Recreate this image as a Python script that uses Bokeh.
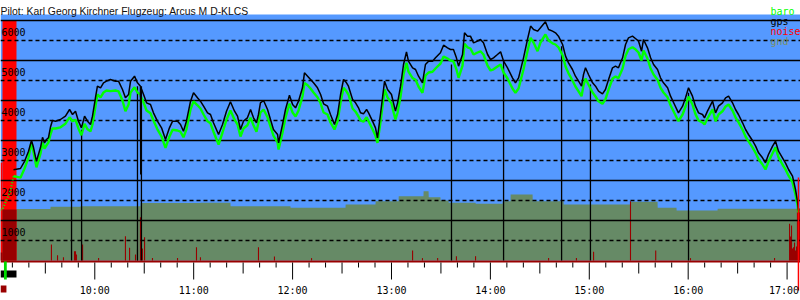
from bokeh.plotting import figure
from bokeh.models import Range1d
from bokeh.core.properties import value
from bokeh.embed import file_html
from bokeh.resources import INLINE

# ---------------- data (time in minutes after midnight, altitude in m) -------------
title_text = "Pilot: Karl Georg Kirchner Flugzeug: Arcus M D-KLCS"

time_min = [550.7, 554.9, 557.4, 559.8, 561.6, 562.8, 564.6, 567.1, 568.3, 569.5,
            570.7, 571.9, 573.1, 574.3, 576.2, 579.2, 582.2, 584.7, 586.5, 588.3,
            590.1, 591.9, 593.8, 595.6, 597.4, 598.6, 600.4, 601.6, 603.5, 605.3,
            607.1, 609.5, 612.6, 614.4, 616.8, 618.6, 620.5, 621.7, 624.1, 625.9,
            627.7, 627.9, 628.2, 629.6, 631.4, 633.8, 635.6, 638.0, 640.5, 642.9,
            645.3, 647.2, 650.2, 652.0, 653.8, 655.6, 658.1, 659.9, 662.3, 664.1,
            666.0, 668.4, 670.2, 672.0, 675.1, 677.5, 679.9, 682.3, 684.8, 686.6,
            688.4, 690.2, 692.6, 694.5, 696.3, 698.1, 699.3, 700.5, 702.4, 704.8,
            706.6, 708.4, 710.9, 711.5, 713.9, 715.7, 718.1, 720.0, 721.8, 723.6,
            726.0, 727.2, 729.1, 730.9, 732.7, 735.1, 737.0, 738.8, 741.2, 743.0,
            745.4, 747.3, 749.1, 750.9, 752.7, 753.9, 756.4, 758.2, 760.0, 761.2,
            763.0, 764.9, 766.1, 768.5, 770.3, 771.5, 773.3, 775.8, 777.6, 780.0,
            781.2, 782.4, 783.7, 785.5, 787.3, 789.1, 790.3, 792.8, 794.6, 796.4,
            798.8, 800.6, 802.5, 804.9, 806.7, 809.7, 811.6, 814.0, 815.8, 817.6,
            819.4, 820.7, 823.1, 824.3, 826.1, 827.9, 829.8, 832.2, 834.0, 835.8,
            838.3, 840.1, 841.9, 844.3, 846.2, 848.0, 850.4, 853.4, 855.2, 857.1,
            860.1, 862.5, 864.4, 866.2, 868.6, 870.4, 873.4, 875.3, 877.7, 879.5,
            881.3, 883.8, 885.6, 887.4, 889.8, 891.6, 893.5, 895.3, 896.5, 897.7,
            899.5, 902.0, 903.8, 905.6, 908.0, 909.8, 911.7, 914.1, 915.9, 917.7,
            920.2, 922.0, 923.8, 926.2, 928.0, 929.9, 931.7, 932.9, 935.3, 937.2,
            939.0, 941.4, 943.2, 945.0, 947.5, 949.3, 951.7, 954.1, 956.6, 958.4,
            960.2, 962.6, 964.4, 966.3, 968.7, 969.9, 971.7, 974.8, 976.6, 978.4,
            980.8, 982.7, 984.5, 986.9, 988.7, 990.5, 993.0, 994.8, 996.6, 999.0,
            1000.9, 1002.7, 1005.1, 1006.9, 1008.7, 1011.2, 1013.0, 1014.8, 1017.2, 1019.0,
            1020.9, 1023.3, 1025.1, 1026.3, 1026.9]

gps_alt = [2270, 2300, 2480, 2730, 3000, 2830, 2480, 2830, 3080, 2940,
           3025, 3070, 3330, 3500, 3480, 3525, 3610, 3775, 3650, 3733,
           3483, 3317, 3608, 3483, 3400, 3608, 4067, 4358, 4317, 4442,
           4483, 4525, 4483, 4483, 4275, 4067, 4150, 4483, 4608, 4442,
           4358, 2150, 4300, 4150, 3942, 3900, 3692, 3483, 3317, 3025,
           3317, 3483, 3483, 3400, 3233, 3483, 3983, 4192, 4067, 3983,
           3858, 3692, 3650, 3442, 3150, 3400, 3733, 3967, 3733, 3608,
           3275, 3483, 3567, 3775, 3567, 3442, 3650, 3942, 4000, 3775,
           3525, 3275, 3150, 2942, 3400, 3775, 4133, 3900, 3817, 3983,
           4317, 4692, 4608, 4525, 4442, 4317, 4150, 3917, 3858, 3650,
           3400, 3650, 4150, 4525, 4442, 4358, 4025, 3942, 3817, 3692,
           3667, 3775, 3692, 3483, 3317, 3067, 3650, 4483, 4275, 4150,
           3942, 3733, 3942, 4358, 4900, 5217, 4983, 4817, 4775, 4608,
           4442, 4900, 4983, 4983, 5067, 5192, 5383, 5317, 5275, 5275,
           5067, 4858, 5150, 5692, 5608, 5608, 5442, 5483, 5525, 5442,
           5150, 5025, 5067, 5150, 5217, 4983, 4817, 4567, 4442, 4567,
           5067, 5525, 5860, 5775, 5733, 5817, 5967, 5775, 5733, 5692,
           5608, 5400, 5108, 4942, 4775, 4608, 4483, 4358, 4650, 4817,
           4650, 4442, 4358, 4233, 4167, 4275, 4525, 4817, 4858, 4817,
           5067, 5400, 5567, 5608, 5550, 5483, 5233, 5525, 5317, 5067,
           4900, 4775, 4567, 4442, 4317, 4108, 3900, 3692, 3858, 4067,
           4317, 4108, 3858, 3692, 3650, 3567, 3733, 3983, 3692, 3858,
           3942, 4067, 4108, 3942, 3775, 3650, 3442, 3275, 3150, 3000,
           2858, 2692, 2567, 2442, 2650, 2858, 2983, 2733, 2567, 2442,
           2275, 2108, 1775, 1483, 1250]

baro_alt = [2110, 2070, 2300, 2580, 2950, 2720, 2330, 2680, 2950, 2800,
            2880, 2950, 3150, 3300, 3300, 3330, 3420, 3580, 3480, 3520,
            3300, 3130, 3420, 3280, 3230, 3400, 3850, 4150, 4080, 4200,
            4250, 4233, 4250, 4230, 4000, 3733, 3900, 4200, 4330, 4200,
            4150, 4100, 4080, 3950, 3750, 3680, 3500, 3280, 3100, 2817,
            3100, 3270, 3250, 3220, 3080, 3280, 3780, 3980, 3880, 3800,
            3650, 3480, 3430, 3220, 2900, 3200, 3520, 3750, 3520, 3400,
            3100, 3300, 3380, 3570, 3380, 3220, 3450, 3700, 3775, 3580,
            3350, 3120, 2950, 2775, 3200, 3570, 3920, 3700, 3600, 3750,
            4100, 4442, 4380, 4300, 4200, 4080, 3930, 3700, 3650, 3450,
            3275, 3480, 3950, 4317, 4230, 4150, 3800, 3720, 3600, 3500,
            3470, 3580, 3480, 3280, 3120, 2942, 3450, 4275, 4080, 3930,
            3720, 3525, 3700, 4100, 4650, 4942, 4720, 4560, 4520, 4350,
            4192, 4620, 4700, 4720, 4800, 4920, 5100, 5050, 5000, 4980,
            4780, 4567, 4870, 5417, 5330, 5300, 5150, 5200, 5230, 5150,
            4870, 4750, 4780, 4850, 4900, 4700, 4550, 4300, 4192, 4300,
            4780, 5230, 5567, 5450, 5233, 5450, 5650, 5500, 5430, 5400,
            5330, 5130, 4850, 4680, 4500, 4350, 4230, 4108, 4380, 4550,
            4400, 4200, 4100, 3980, 3917, 4030, 4270, 4550, 4600, 4560,
            4800, 5120, 5280, 5330, 5280, 5200, 5000, 5250, 5050, 4800,
            4650, 4520, 4320, 4200, 4080, 3880, 3680, 3483, 3650, 3850,
            4100, 3900, 3660, 3500, 3450, 3400, 3550, 3780, 3480, 3650,
            3730, 3850, 3900, 3750, 3580, 3460, 3270, 3100, 2980, 2830,
            2690, 2530, 2400, 2275, 2470, 2680, 2830, 2580, 2400, 2280,
            2120, 1950, 1650, 1400, 1200]

# launch part of the barograph (engine climb)
launch_time = [542.8, 544.0, 548.9, 550.7]
launch_baro = [1275, 1275, 1750, 2110]

gnd_time = [542.8, 552.5, 552.6, 573.1, 573.2, 591.3, 591.4, 627.7, 627.8, 664.1,
            664.2, 682.3, 682.4, 718.7, 718.8, 752.1, 752.2, 770.3, 770.4, 784.3,
            784.4, 799.4, 799.5, 802.5, 802.6, 809.7, 809.8, 814.6, 814.7, 831.0,
            831.1, 847.4, 847.5, 852.2, 852.3, 865.6, 865.7, 884.4, 884.5, 925.0,
            925.1, 941.4, 941.5, 952.9, 953.0, 977.8, 977.9, 1028.2]
gnd_alt = [1275, 1275, 1290, 1290, 1342, 1342, 1358, 1358, 1440, 1440,
           1442, 1442, 1358, 1358, 1317, 1317, 1400, 1400, 1483, 1483,
           1608, 1608, 1733, 1733, 1583, 1583, 1500, 1500, 1442, 1442,
           1417, 1417, 1483, 1483, 1650, 1650, 1483, 1483, 1400, 1400,
           1467, 1467, 1317, 1317, 1250, 1250, 1292, 1292]

noise_time = [573.7, 577.4, 581.0, 587.7, 588.3, 588.9, 592.6, 602.3, 618.6, 621.1,
              624.7, 625.9, 627.7, 628.9, 630.2, 635.0, 650.2, 661.7, 664.1, 699.3,
              709.0, 731.5, 792.8, 798.8, 808.0, 819.4, 831.0, 875.3, 892.2, 902.6,
              925.0, 940.3, 961.4, 1012.4, 1021.5, 1022.1, 1022.7, 1023.3, 1023.9,
              1024.5, 1025.1, 1025.7, 1026.3, 1027.5]
noise_val = [400, 133, 80, 233, 233, 150, 400, 60, 608, 317,
             150, 275, 1083, 300, 583, 60, 60, 333, 80, 333,
             100, 60, 250, 60, 60, 108, 108, 60, 60, 217,
             1483, 250, 60, 60, 917, 600, 875, 300, 333, 450, 250, 350, 1300, 1300]

engine_start = [542.8, 544.0]
engine_end = [544.0, 552.5]
engine_enl = [2450, 6000]
engine_noise = [200, 1275]

marker_time = [585.9, 592.0, 625.9, 628.3, 816.4, 848.0, 883.2, 900.7, 960.2]
marker_alt = [3450, 3270, 4358, 4358, 4900, 4983, 5358, 4400, 4192]

end_time = [1026.9]
end_top = [2075]

takeoff_time = [544.9, 542.8, 542.8]
takeoff_end = [546.6, 552.5, 546.4]
takeoff_color = ["#00dd00", "#000000", "#990000"]

hour_ticks = [600, 660, 720, 780, 840, 900, 960, 1020]
hour_labels = ["10:00", "11:00", "12:00", "13:00", "14:00", "15:00", "16:00", "17:00"]
alt_major = [1000, 2000, 3000, 4000, 5000, 6000]
alt_labels = ["1000", "2000", "3000", "4000", "5000", "6000"]
alt_minor = [500, 1500, 2500, 3500, 4500, 5500]

legend_names = ["baro", "gps", "noise", "gnd"]
legend_colors = ["#00ff00", "#000000", "#ff0000", "#7c8f66"]

# ---------------- colours / geometry ----------------
BLUE = "#5599ff"
GND = "#668a66"
DARKRED = "#990000"
T0, T1 = 542.8, 542.8 + 800 * 60 / 98.9
V_TOP, V_BOT = 6500, -1000
PX = (V_TOP - V_BOT) / 300.0       # altitude units per screen pixel
TPX = (T1 - T0) / 800.0            # minutes per screen pixel

p = figure(width=800, height=300, output_backend="svg", toolbar_location=None,
           x_range=Range1d(T0, T1), y_range=Range1d(V_BOT, V_TOP),
           x_axis_location=None, y_axis_location=None, min_border=0)
p.grid.visible = False
p.outline_line_color = None
p.background_fill_color = "white"
p.border_fill_color = "white"

# plot area background
p.quad(left=[T0], right=[T1], bottom=[0], top=[V_TOP - 14 * PX], fill_color=BLUE, line_color=None)

# ground
p.varea(x=gnd_time, y1=[0] * len(gnd_time), y2=gnd_alt, fill_color=GND)

# engine (ENL) band
p.quad(left=engine_start, right=engine_end, bottom=[0, 0], top=engine_enl,
       fill_color="#ff0000", line_color=None)
p.quad(left=engine_start, right=engine_end, bottom=[0, 0], top=engine_noise,
       fill_color=DARKRED, line_color=None)

# noise
p.vbar(x=noise_time, width=TPX * 1.1, bottom=0, top=noise_val, fill_color=DARKRED, line_color=None)
p.segment(x0=[T0], x1=[T1], y0=[-PX], y1=[-PX], line_color=DARKRED, line_width=2)

# grid
p.segment(x0=[T0] * 6, x1=[T1] * 6, y0=alt_major, y1=alt_major, line_color="black", line_width=1.6)
p.segment(x0=[T0] * 6, x1=[T1] * 6, y0=alt_minor, y1=alt_minor, line_color="black",
          line_width=1.6, line_dash="4 3")

# markers
p.segment(x0=marker_time, x1=marker_time, y0=[0] * len(marker_time), y1=marker_alt,
          line_color="black", line_width=1.3)

# altitude labels
p.text(x=[T0] * 6, y=alt_major, text=alt_labels, text_font=value("DejaVu Sans Mono"),
       text_font_size="10px", text_color="black", text_align="left",
       text_baseline="alphabetic", x_offset=1, y_offset=11)

# traces
p.line(launch_time, launch_baro, line_color="#00ff00", line_width=2, line_dash="1 2")
p.line(time_min, baro_alt, line_color="#00ff00", line_width=2.4)
p.line(time_min, gps_alt, line_color="black", line_width=1.5)

# end-of-flight cursor
p.segment(x0=end_time, x1=end_time, y0=end_top, y1=[-750], line_color="#ff0000", line_width=1.5)

# time axis ticks
ticks_x, ticks_y1 = [], []
for m in range(550, 1030, 10):
    ticks_x.append(m)
    if m % 60 == 0:
        ticks_y1.append(-19 * PX)
    elif m % 30 == 0:
        ticks_y1.append(-13 * PX)
    else:
        ticks_y1.append(-7 * PX)
p.segment(x0=ticks_x, x1=ticks_x, y0=[-2 * PX] * len(ticks_x), y1=ticks_y1,
          line_color="black", line_width=1)
label_shift = [0] * (len(hour_ticks) - 1) + [-3]
p.text(x=hour_ticks, y=[-30 * PX] * len(hour_ticks), text=hour_labels,
       x_offset=label_shift,
       text_font=value("DejaVu Sans Mono"), text_font_size="10px", text_color="black",
       text_align="center", text_baseline="alphabetic")

# takeoff indicators below axis
p.quad(left=[takeoff_time[1]], right=[takeoff_end[1]], bottom=[-17 * PX], top=[-10 * PX],
       fill_color=takeoff_color[1], line_color=None)
p.quad(left=[takeoff_time[0]], right=[takeoff_end[0]], bottom=[-19 * PX], top=[-1 * PX],
       fill_color=takeoff_color[0], line_color=None)
p.quad(left=[takeoff_time[2]], right=[takeoff_end[2]], bottom=[-32 * PX], top=[-25 * PX],
       fill_color=takeoff_color[2], line_color=None)

# title
p.text(x=[T0], y=[V_TOP - 11 * PX], text=[title_text], text_font=value("Liberation Sans"),
       text_font_size="10.4px", text_color="#111111", text_align="left",
       text_baseline="alphabetic", x_offset=0)

# legend
p.text(x=[T0 + 770 * TPX] * 4, y=[V_TOP - (11 + 10 * i) * PX for i in range(4)],
       text=legend_names, text_color=legend_colors, text_font=value("DejaVu Sans Mono"),
       text_font_size="10px", text_align="left", text_baseline="alphabetic")

open("out.html", "w").write(file_html(p, INLINE))
